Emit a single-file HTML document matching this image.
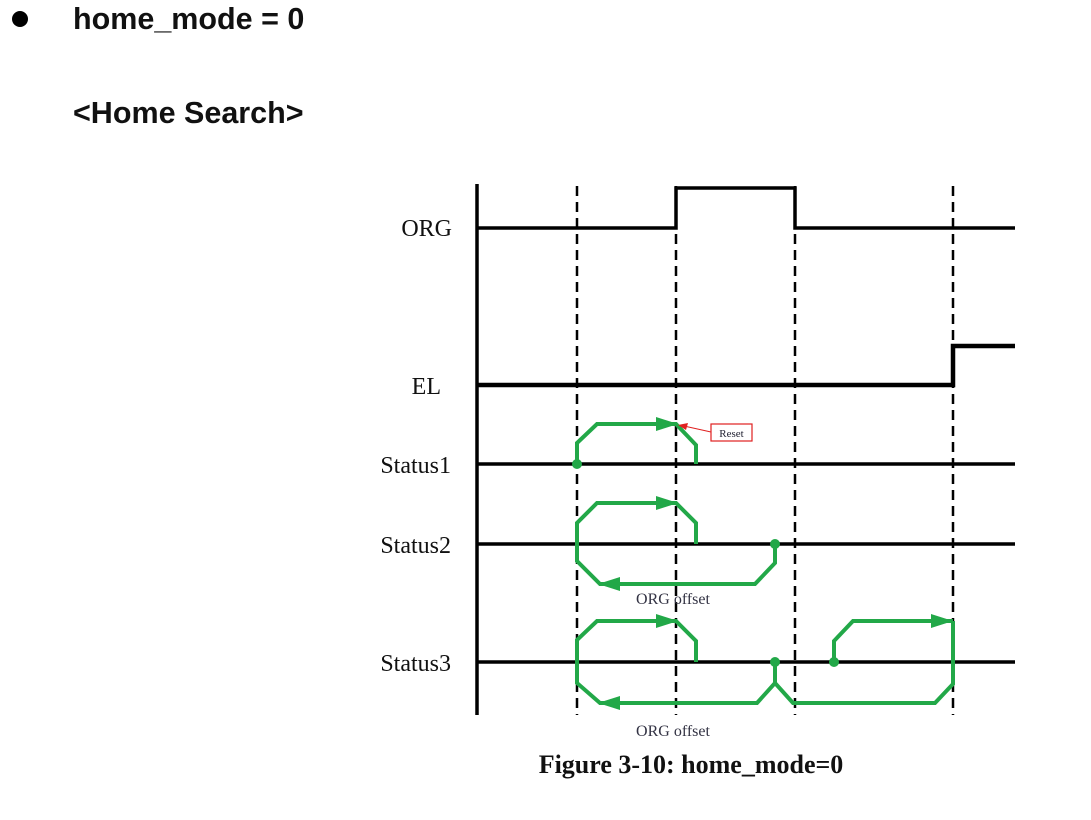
<!DOCTYPE html>
<html><head><meta charset="utf-8"><style>
html,body{margin:0;padding:0;background:#fff;width:1091px;height:820px;overflow:hidden}
</style></head><body>
<svg width="1091" height="820" viewBox="0 0 1091 820" xmlns="http://www.w3.org/2000/svg">
<circle cx="20" cy="19" r="8" fill="#000"/>
<text x="73" y="29" font-family="Liberation Sans, sans-serif" font-weight="bold" font-size="30.5" fill="#111">home_mode = 0</text>
<text x="73" y="123" font-family="Liberation Sans, sans-serif" font-weight="bold" font-size="30.5" fill="#111">&lt;Home Search&gt;</text>

<g font-family="Liberation Serif, serif" font-size="24" fill="#111" text-anchor="end">
<text x="452" y="236">ORG</text>
<text x="441" y="394">EL</text>
<text x="451" y="473">Status1</text>
<text x="451" y="553">Status2</text>
<text x="451" y="671">Status3</text>
</g>

<g stroke="#000" stroke-width="2.5" stroke-dasharray="10,6" fill="none">
<line x1="577" y1="186" x2="577" y2="715"/>
<line x1="676" y1="186" x2="676" y2="715"/>
<line x1="795" y1="186" x2="795" y2="715"/>
<line x1="953" y1="186" x2="953" y2="715"/>
</g>

<g stroke="#000" stroke-width="3.5" fill="none">
<line x1="477" y1="184" x2="477" y2="715"/>
<polyline points="477,228 676,228 676,188 795,188 795,228 1015,228"/>
<polyline points="477,385 953,385 953,346 1015,346" stroke-width="4.5"/>
<line x1="477" y1="464" x2="1015" y2="464"/>
<line x1="477" y1="544" x2="1015" y2="544"/>
<line x1="477" y1="662" x2="1015" y2="662"/>
</g>

<g stroke="#22a848" stroke-width="4" fill="none" stroke-linejoin="miter">
<polyline points="577,464 577,443 597,424 676,424 696,445 696,464"/>
<polyline points="577,544 577,523 597,503 676,503 696,523 696,544"/>
<polyline points="775,544 775,563 755,584 600,584 577,561 577,544"/>
<polyline points="577,662 577,640 597,621 676,621 696,641 696,662"/>
<polyline points="577,662 577,683 600,703 757,703 775,683 793,703 935,703 953,684 953,621"/>
<line x1="775" y1="683" x2="775" y2="662"/>
<polyline points="834,662 834,641 853,621 953,621"/>
</g>
<g fill="#22a848">
<circle cx="577" cy="464" r="5"/>
<circle cx="775" cy="544" r="5"/>
<circle cx="775" cy="662" r="5"/>
<circle cx="834" cy="662" r="5"/>
<polygon points="678,424 656,417 656,431"/>
<polygon points="678,503 656,496 656,510"/>
<polygon points="678,621 656,614 656,628"/>
<polygon points="598,584 620,577 620,591"/>
<polygon points="598,703 620,696 620,710"/>
<polygon points="953,621 931,614 931,628"/>
</g>

<rect x="711" y="424" width="41" height="17" fill="#fff" stroke="#e02020" stroke-width="1.2"/>
<text x="731.5" y="437" font-family="Liberation Serif, serif" font-size="11" fill="#223" text-anchor="middle">Reset</text>
<line x1="711" y1="432" x2="684" y2="426" stroke="#e02020" stroke-width="1"/>
<polygon points="678,425 688,423 686,430" fill="#e02020"/>

<g font-family="Liberation Serif, serif" font-size="16" fill="#334" text-anchor="middle">
<text x="673" y="604">ORG offset</text>
<text x="673" y="736">ORG offset</text>
</g>
<text x="691" y="773" font-family="Liberation Serif, serif" font-weight="bold" font-size="26" fill="#111" text-anchor="middle">Figure 3-10: home_mode=0</text>
</svg>
</body></html>
